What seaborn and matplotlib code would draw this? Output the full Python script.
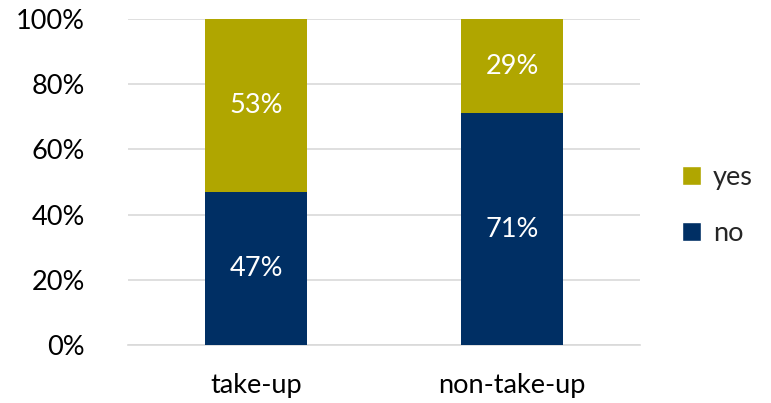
import matplotlib
matplotlib.use("Agg")
import matplotlib.pyplot as plt
from matplotlib.patches import Patch
import seaborn as sns
import pandas as pd

categories = ["take-up", "non-take-up"]
no_share = [47, 71]
yes_share = [53, 29]
y_ticks = [0, 20, 40, 60, 80, 100]

color_yes = "#B0A600"
color_no = "#002F64"

sns.set_theme(style="white")
plt.rcParams["font.family"] = ["Lato", "DejaVu Sans"]

df = pd.DataFrame({"group": categories, "no": no_share, "yes": yes_share})
df["total"] = df["no"] + df["yes"]

fig = plt.figure(figsize=(7.71, 4.03), dpi=100)
ax = fig.add_axes([0.166, 0.144, 0.664, 0.809])

# stacked bars: full height in the "yes" colour, "no" drawn on top from the base
sns.barplot(data=df, x="group", y="total", color=color_yes, width=0.4,
            saturation=1, linewidth=0, ax=ax, zorder=3)
sns.barplot(data=df, x="group", y="no", color=color_no, width=0.4,
            saturation=1, linewidth=0, ax=ax, zorder=3)

for i, (n, y) in enumerate(zip(no_share, yes_share)):
    ax.text(i, n / 2, f"{n}%", ha="center", va="center", color="white",
            fontsize=19.5, zorder=4)
    ax.text(i, n + y / 2, f"{y}%", ha="center", va="center", color="white",
            fontsize=19.5, zorder=4)

ax.set_xlim(-0.5, 1.5)
ax.set_ylim(0, 100)
ax.set_yticks(y_ticks)
ax.set_yticklabels([f"{t}%" for t in y_ticks])
ax.yaxis.grid(True, color="#D9D9D9", linewidth=1.2, zorder=0)
ax.set_axisbelow(True)
ax.set_xlabel("")
ax.set_ylabel("")
for s in ["top", "right", "left"]:
    ax.spines[s].set_visible(False)
ax.spines["bottom"].set_color("#D9D9D9")
ax.spines["bottom"].set_linewidth(1.2)
ax.tick_params(axis="y", labelsize=19.5, colors="black", length=0, pad=31)
ax.tick_params(axis="x", labelsize=19.5, colors="black", length=0, pad=20)

handles = [Patch(facecolor=color_yes, label="yes"),
           Patch(facecolor=color_no, label="no")]
fig.legend(handles=handles, loc="center left", bbox_to_anchor=(0.853, 0.49),
           frameon=False, fontsize=19.5, handlelength=0.7, handleheight=0.7,
           handletextpad=0.45, labelspacing=1.15)

fig.savefig("out.png", dpi=100)
